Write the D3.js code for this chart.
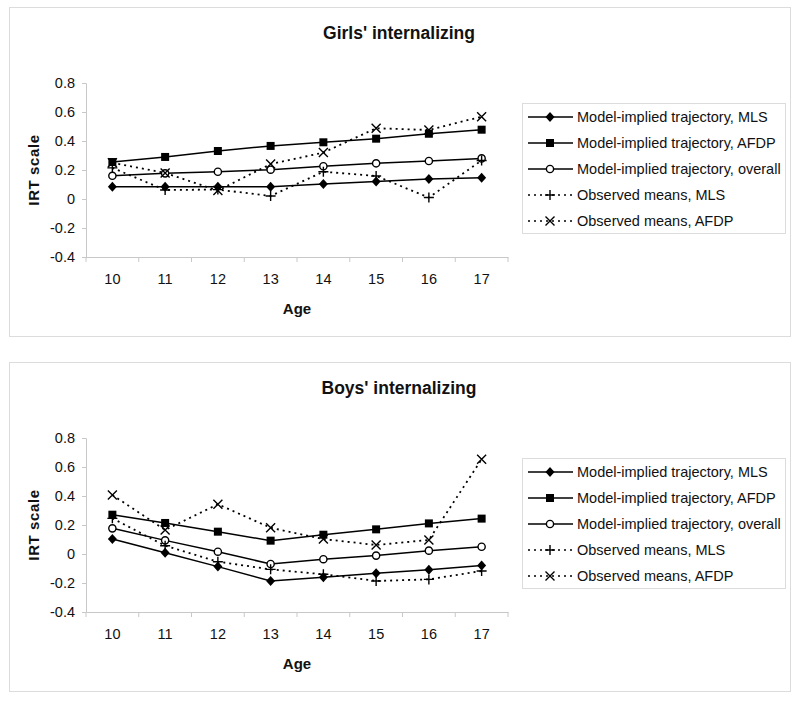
<!DOCTYPE html>
<html><head><meta charset="utf-8">
<script src="https://cdn.jsdelivr.net/npm/d3@7"></script>
<style>
body{margin:0;background:#fff}
svg{display:block}
text{font-family:"Liberation Sans",Arial,sans-serif;fill:#111}
</style>
</head><body><svg id="chart" width="800" height="702"></svg>
<script>
// ---- data ----
const ages = [10, 11, 12, 13, 14, 15, 16, 17];
const yTicks = [-0.4, -0.2, 0, 0.2, 0.4, 0.6, 0.8];
const yTickLabels = ["-0.4", "-0.2", "0", "0.2", "0.4", "0.6", "0.8"];
const seriesNames = [
  "Model-implied trajectory, MLS",
  "Model-implied trajectory, AFDP",
  "Model-implied trajectory, overall",
  "Observed means, MLS",
  "Observed means, AFDP"
];
const seriesMarkers = ["diamond", "square", "circle", "plus", "cross"];
const seriesDotted = [false, false, false, true, true];
const panelTitles = ["Girls' internalizing", "Boys' internalizing"];

const girlsModelMLS     = [0.085, 0.085, 0.085, 0.085, 0.103, 0.120, 0.138, 0.147];
const girlsModelAFDP    = [0.255, 0.290, 0.331, 0.366, 0.391, 0.416, 0.450, 0.478];
const girlsModelOverall = [0.160, 0.177, 0.188, 0.202, 0.226, 0.246, 0.262, 0.280];
const girlsObsMLS       = [0.215, 0.062, 0.065, 0.021, 0.188, 0.159, 0.010, 0.266];
const girlsObsAFDP      = [0.250, 0.180, 0.058, 0.241, 0.320, 0.488, 0.476, 0.568];

const boysModelMLS      = [0.103, 0.009, -0.087, -0.186, -0.161, -0.133, -0.108, -0.080];
const boysModelAFDP     = [0.271, 0.214, 0.154, 0.092, 0.133, 0.170, 0.211, 0.244];
const boysModelOverall  = [0.177, 0.094, 0.016, -0.069, -0.036, -0.011, 0.023, 0.050];
const boysObsMLS        = [0.246, 0.057, -0.053, -0.106, -0.140, -0.186, -0.175, -0.117];
const boysObsAFDP       = [0.407, 0.166, 0.343, 0.181, 0.103, 0.062, 0.097, 0.653];

const panelsData = [
  [girlsModelMLS, girlsModelAFDP, girlsModelOverall, girlsObsMLS, girlsObsAFDP],
  [boysModelMLS, boysModelAFDP, boysModelOverall, boysObsMLS, boysObsAFDP]
];

// ---- drawing ----
const svg = d3.select("#chart");
const panelOffsets = [0, 355];
const axisColor = "#c8c8c8";

function drawMarker(g, type, x, y) {
  const c = "#000";
  if (type === "diamond") {
    g.append("path").attr("d", `M${x},${y-5}L${x+4.5},${y}L${x},${y+5}L${x-4.5},${y}Z`).attr("fill", c);
  } else if (type === "square") {
    g.append("rect").attr("x", x-4).attr("y", y-4).attr("width", 8).attr("height", 8).attr("fill", c);
  } else if (type === "circle") {
    g.append("circle").attr("cx", x).attr("cy", y).attr("r", 3.6).attr("fill", "#fff").attr("stroke", c).attr("stroke-width", 1.4);
  } else if (type === "plus") {
    g.append("path").attr("d", `M${x-5},${y}H${x+5}M${x},${y-5}V${y+5}`).attr("stroke", c).attr("stroke-width", 1.4).attr("fill", "none");
  } else if (type === "cross") {
    g.append("path").attr("d", `M${x-4.5},${y-4.5}L${x+4.5},${y+4.5}M${x-4.5},${y+4.5}L${x+4.5},${y-4.5}`).attr("stroke", c).attr("stroke-width", 1.4).attr("fill", "none");
  }
}

panelsData.forEach((series, p) => {
  const off = panelOffsets[p];
  const g = svg.append("g").attr("transform", `translate(0,${off})`);

  g.append("rect").attr("x", 9.5).attr("y", 7.5).attr("width", 781).attr("height", 329)
    .attr("fill", "#fff").attr("stroke", "#dcdcdc").attr("stroke-width", 1);

  g.append("text").attr("x", 399).attr("y", 39).attr("text-anchor", "middle")
    .attr("font-size", 17.5).attr("font-weight", "bold").text(panelTitles[p]);

  const x = d3.scaleBand().domain(ages).range([86, 508]).paddingInner(0).paddingOuter(0);
  const y = d3.scaleLinear().domain([-0.4, 0.8]).range([257, 83]);

  // y axis
  const yAxis = d3.axisLeft(y).tickValues(yTicks).tickSize(4).tickPadding(7)
    .tickFormat((d, i) => yTickLabels[i]);
  const ya = g.append("g").attr("transform", "translate(86,0)").call(yAxis);
  ya.select(".domain").attr("stroke", axisColor);
  ya.selectAll(".tick line").attr("stroke", axisColor);
  ya.selectAll(".tick text").attr("font-size", 14.5).attr("fill", "#111")
    .attr("font-family", '"Liberation Sans",Arial,sans-serif');

  // x axis with ticks at band edges
  const xAxis = d3.axisBottom(x).tickSize(0).tickPadding(17);
  const xa = g.append("g").attr("transform", "translate(0,257)").call(xAxis);
  xa.select(".domain").attr("stroke", axisColor);
  xa.selectAll(".tick text").attr("font-size", 14.5).attr("fill", "#111")
    .attr("font-family", '"Liberation Sans",Arial,sans-serif');
  const edges = ages.map(a => x(a)).concat([x(ages[ages.length-1]) + x.bandwidth()]);
  xa.selectAll("line.edge").data(edges).enter().append("line")
    .attr("class", "edge").attr("x1", d => d).attr("x2", d => d).attr("y1", 0).attr("y2", 5)
    .attr("stroke", axisColor);

  // axis titles
  g.append("text").attr("x", 297).attr("y", 314).attr("text-anchor", "middle")
    .attr("font-size", 15).attr("font-weight", "bold").text("Age");
  g.append("text").attr("transform", "translate(39,170) rotate(-90)").attr("text-anchor", "middle")
    .attr("font-size", 15).attr("font-weight", "bold").attr("letter-spacing", 0.6).text("IRT scale");

  const cx = a => x(a) + x.bandwidth() / 2;
  const line = d3.line().x((d, i) => cx(ages[i])).y(d => y(d));

  series.forEach((vals, s) => {
    g.append("path").datum(vals).attr("d", line).attr("fill", "none").attr("stroke", "#000")
      .attr("stroke-width", seriesDotted[s] ? 1.8 : 1.5)
      .attr("stroke-dasharray", seriesDotted[s] ? "2,4" : null);
  });
  series.forEach((vals, s) => {
    const mg = g.append("g");
    vals.forEach((v, i) => drawMarker(mg, seriesMarkers[s], cx(ages[i]), y(v)));
  });

  // legend
  const lg = g.append("g");
  lg.append("rect").attr("x", 522.5).attr("y", 103.5).attr("width", 263).attr("height", 130)
    .attr("fill", "#fff").attr("stroke", "#dcdcdc");
  seriesNames.forEach((name, s) => {
    const ly = 117 + s * 26;
    lg.append("line").attr("x1", 528).attr("x2", 573).attr("y1", ly).attr("y2", ly)
      .attr("stroke", "#000").attr("stroke-width", seriesDotted[s] ? 1.6 : 1.5)
      .attr("stroke-dasharray", seriesDotted[s] ? "2,4" : null);
    drawMarker(lg, seriesMarkers[s], 550, ly);
    lg.append("text").attr("x", 577).attr("y", ly + 5).attr("font-size", 14.5).text(name);
  });
});
</script>
</body></html>
